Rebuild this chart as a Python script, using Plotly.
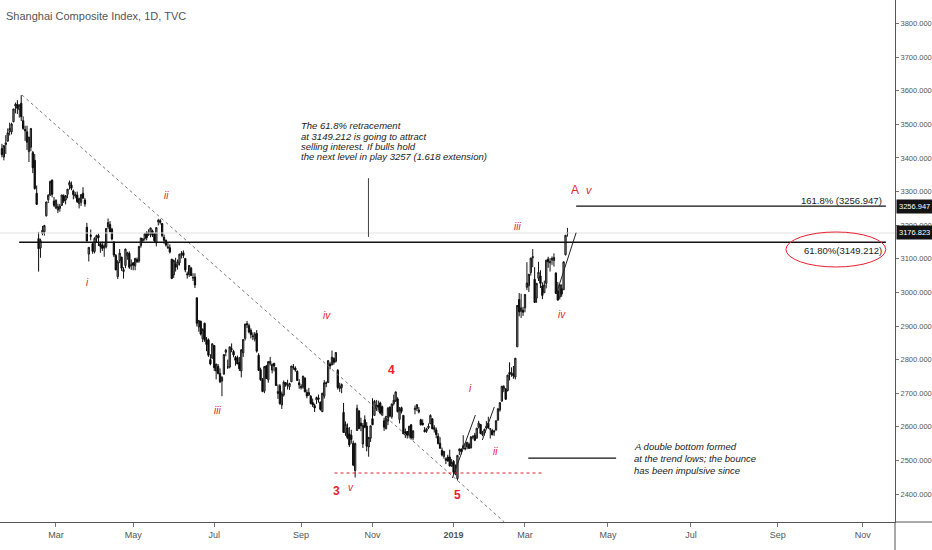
import pandas as pd
import plotly.graph_objects as go

# exchange holidays (weekdays without a session) inside the plotted range
holidays = ["2018-02-15", "2018-02-16", "2018-02-19", "2018-02-20", "2018-02-21",
            "2018-04-05", "2018-04-06", "2018-04-30", "2018-05-01", "2018-06-18",
            "2018-09-24", "2018-10-01", "2018-10-02", "2018-10-03", "2018-10-04",
            "2018-10-05", "2018-12-31", "2019-01-01", "2019-02-04", "2019-02-05",
            "2019-02-06", "2019-02-07", "2019-02-08"]

days = [d for d in pd.bdate_range("2018-01-15", "2019-04-02")
        if d.strftime("%Y-%m-%d") not in holidays]

opens = [
    3428, 3403, 3440, 3450, 3479, 3478, 3508, 3555, 3560, 3544, 3563, 3511, 3485,
    3478, 3419, 3432, 3416, 3393, 3295, 3160, 3132, 3175, 3180, 3228, 3276, 3289, 3334, 3272,
    3251, 3245, 3250, 3259, 3287, 3275, 3292, 3319, 3320, 3302, 3287, 3290, 3264, 3268, 3295, 3275, 3194, 3114, 3170, 3145, 3122, 3161,
    3169, 3145, 3141, 3132, 3136, 3195, 3202, 3188, 3149, 3110, 3047, 3095, 3105, 3062, 3080, 3109, 3116, 3080,
    3088, 3079, 3098, 3093, 3139, 3154, 3160, 3178, 3172, 3176, 3183, 3174, 3147, 3210, 3208, 3205, 3164, 3155, 3133, 3133, 3099, 3052,
    3084, 3081, 3088, 3114, 3118, 3101, 3055, 3053, 3072, 3043, 3046, 2984, 2897, 2914, 2862, 2908, 2859, 2859, 2800, 2804,
    2842, 2766, 2780, 2759, 2736, 2757, 2822, 2778, 2778, 2832, 2824, 2806, 2806, 2791, 2766, 2820, 2863, 2907, 2901, 2887, 2870, 2861,
    2878, 2813, 2770, 2740, 2706, 2781, 2740, 2788, 2769, 2789, 2776, 2699, 2722, 2665, 2695, 2731, 2723, 2719, 2734, 2778, 2775, 2765, 2731,
    2716, 2718, 2745, 2702, 2694, 2691, 2672, 2663, 2680, 2686, 2674, 2645, 2691, 2731, 2732, 2787, 2784, 2803, 2795,
    2768, 2714, 2717, 2643, 2582, 2597, 2579, 2575, 2551, 2470, 2589, 2647, 2611, 2549, 2621, 2602, 2540, 2566,
    2624, 2634, 2654, 2664, 2671, 2660, 2618, 2594, 2617, 2659, 2630, 2669, 2677, 2683, 2622, 2657, 2634, 2585, 2586, 2575, 2606, 2567,
    2651, 2654, 2644, 2621, 2611, 2590, 2587, 2597, 2609, 2624, 2592, 2591, 2572, 2551, 2530, 2512, 2500, 2510, 2510, 2483,
    2497, 2461, 2446, 2529, 2534, 2535, 2536, 2540, 2548, 2537, 2570, 2575, 2566, 2599, 2607, 2576, 2582, 2596, 2611, 2593, 2589, 2587,
    2590, 2620, 2650, 2676, 2713, 2713, 2708, 2762, 2756, 2757, 2748, 2838, 2979, 2944, 2947,
    2954, 3015, 3020, 3059, 3103, 3039, 2983, 3042, 3049, 3019, 2999, 3027, 3099, 3088, 3096, 3095, 3058, 3005, 2986, 3011, 3008,
    3112, 3177,
]
highs = [
    3442, 3438, 3468, 3488, 3505, 3505, 3546, 3565, 3572, 3559, 3587, 3524, 3496,
    3496, 3463, 3488, 3421, 3412, 3318, 3180, 3160, 3198, 3201, 3270, 3292, 3333, 3336, 3284,
    3277, 3264, 3263, 3290, 3292, 3290, 3308, 3333, 3330, 3306, 3299, 3300, 3282, 3292, 3313, 3281, 3207, 3135, 3187, 3150, 3164, 3172,
    3175, 3149, 3151, 3146, 3191, 3220, 3212, 3192, 3153, 3114, 3096, 3129, 3106, 3075, 3130, 3121, 3122, 3098,
    3090, 3103, 3104, 3137, 3162, 3162, 3177, 3182, 3188, 3192, 3187, 3177, 3194, 3219, 3219, 3206, 3172, 3157, 3149, 3143, 3099, 3098,
    3103, 3098, 3114, 3123, 3125, 3101, 3062, 3080, 3076, 3057, 3057, 2984, 2918, 2916, 2893, 2910, 2867, 2863, 2816, 2848,
    2843, 2786, 2787, 2774, 2751, 2816, 2832, 2800, 2838, 2848, 2829, 2811, 2812, 2808, 2831, 2860, 2906, 2915, 2907, 2893, 2881, 2882,
    2888, 2819, 2776, 2745, 2781, 2784, 2795, 2808, 2788, 2790, 2777, 2726, 2727, 2705, 2738, 2733, 2740, 2731, 2781, 2787, 2780, 2768, 2742,
    2727, 2751, 2747, 2711, 2716, 2694, 2684, 2669, 2690, 2696, 2674, 2701, 2739, 2735, 2798, 2792, 2827, 2807, 2822,
    2772, 2731, 2729, 2671, 2616, 2610, 2599, 2591, 2559, 2553, 2666, 2650, 2627, 2611, 2634, 2614, 2570, 2603,
    2685, 2680, 2680, 2678, 2675, 2663, 2627, 2630, 2659, 2660, 2669, 2696, 2704, 2688, 2659, 2660, 2634, 2595, 2587, 2602, 2608, 2589,
    2663, 2667, 2659, 2624, 2622, 2599, 2597, 2610, 2637, 2624, 2605, 2598, 2581, 2569, 2538, 2528, 2509, 2517, 2532, 2504,
    2501, 2488, 2516, 2536, 2535, 2575, 2552, 2555, 2553, 2572, 2575, 2582, 2597, 2618, 2607, 2588, 2595, 2617, 2630, 2596, 2594, 2591,
    2619, 2654, 2672, 2721, 2724, 2714, 2754, 2792, 2777, 2781, 2805, 2962, 2998, 2996, 2957,
    2995, 3090, 3055, 3103, 3129, 3075, 3027, 3091, 3066, 3030, 3035, 3097, 3106, 3102, 3107, 3116, 3059, 3031, 3023, 3024, 3091,
    3171, 3192,
]
lows = [
    3402, 3393, 3412, 3450, 3467, 3470, 3506, 3533, 3531, 3520, 3510, 3484, 3451,
    3424, 3388, 3420, 3355, 3306, 3260, 3062, 3103, 3170, 3169, 3226, 3266, 3288, 3283, 3254,
    3248, 3236, 3240, 3257, 3266, 3262, 3280, 3306, 3304, 3277, 3280, 3266, 3250, 3257, 3278, 3255, 3152, 3092, 3155, 3115, 3116, 3150,
    3138, 3118, 3123, 3106, 3131, 3189, 3180, 3155, 3105, 3066, 3040, 3087, 3064, 3041, 3072, 3097, 3070, 3067,
    3066, 3066, 3088, 3088, 3133, 3148, 3154, 3155, 3168, 3164, 3165, 3150, 3137, 3199, 3202, 3164, 3145, 3136, 3129, 3116, 3041, 3043,
    3062, 3068, 3080, 3101, 3102, 3060, 3041, 3046, 3049, 3034, 3013, 2899, 2883, 2872, 2852, 2853, 2825, 2808, 2783, 2804,
    2766, 2741, 2756, 2730, 2691, 2755, 2810, 2772, 2774, 2822, 2807, 2782, 2787, 2766, 2747, 2808, 2857, 2894, 2878, 2863, 2858, 2854,
    2821, 2766, 2737, 2703, 2700, 2743, 2731, 2782, 2759, 2765, 2722, 2683, 2666, 2653, 2690, 2719, 2711, 2710, 2733, 2770, 2764, 2737, 2713,
    2711, 2713, 2703, 2685, 2692, 2667, 2659, 2644, 2668, 2672, 2648, 2644, 2684, 2718, 2731, 2771, 2784, 2785, 2791,
    2711, 2704, 2700, 2583, 2573, 2563, 2540, 2550, 2483, 2449, 2589, 2593, 2587, 2537, 2596, 2527, 2511, 2555,
    2606, 2634, 2647, 2645, 2637, 2632, 2588, 2593, 2605, 2628, 2624, 2663, 2674, 2643, 2610, 2640, 2579, 2567, 2565, 2568, 2562, 2560,
    2637, 2647, 2640, 2604, 2604, 2584, 2582, 2593, 2609, 2593, 2583, 2566, 2548, 2535, 2512, 2505, 2489, 2497, 2483, 2481,
    2457, 2456, 2440, 2516, 2518, 2534, 2530, 2533, 2534, 2536, 2563, 2557, 2566, 2595, 2578, 2572, 2574, 2594, 2594, 2565, 2575, 2573,
    2590, 2618, 2645, 2676, 2703, 2680, 2705, 2738, 2749, 2743, 2741, 2838, 2929, 2924, 2930,
    2941, 3007, 3001, 3050, 3075, 2969, 2969, 3034, 3013, 2980, 2999, 3012, 3073, 3062, 3082, 3077, 2996, 2977, 2979, 2987, 3007,
    3110, 3166,
]
closes = [
    3410, 3437, 3445, 3475, 3488, 3501, 3546, 3559, 3548, 3558, 3523, 3488, 3481,
    3447, 3462, 3488, 3371, 3309, 3262, 3130, 3154, 3185, 3199, 3269, 3289, 3330, 3292, 3259,
    3274, 3255, 3257, 3290, 3272, 3288, 3307, 3327, 3310, 3291, 3291, 3270, 3279, 3291, 3281, 3263, 3153, 3134, 3167, 3122, 3161, 3169,
    3163, 3137, 3131, 3138, 3190, 3208, 3180, 3159, 3111, 3067, 3091, 3117, 3072, 3068, 3129, 3118, 3075, 3082,
    3081, 3101, 3091, 3137, 3162, 3159, 3174, 3163, 3174, 3192, 3170, 3154, 3193, 3214, 3214, 3169, 3155, 3141, 3135, 3120, 3041, 3095,
    3075, 3091, 3114, 3115, 3110, 3067, 3053, 3080, 3050, 3044, 3022, 2908, 2916, 2876, 2890, 2859, 2845, 2813, 2787, 2847,
    2776, 2787, 2759, 2734, 2747, 2815, 2828, 2778, 2838, 2831, 2814, 2798, 2787, 2773, 2829, 2860, 2906, 2904, 2882, 2874, 2869, 2876,
    2825, 2768, 2740, 2705, 2779, 2744, 2794, 2795, 2786, 2781, 2723, 2705, 2669, 2698, 2733, 2725, 2724, 2729, 2781, 2778, 2769, 2738, 2725,
    2721, 2751, 2704, 2692, 2702, 2669, 2665, 2656, 2687, 2682, 2652, 2700, 2731, 2729, 2797, 2781, 2807, 2792, 2821,
    2717, 2721, 2726, 2583, 2607, 2568, 2546, 2562, 2486, 2550, 2655, 2595, 2603, 2604, 2599, 2542, 2568, 2603,
    2606, 2676, 2665, 2659, 2641, 2636, 2599, 2631, 2655, 2632, 2668, 2679, 2704, 2645, 2652, 2646, 2579, 2576, 2575, 2602, 2567, 2588,
    2655, 2666, 2650, 2606, 2606, 2585, 2594, 2602, 2634, 2594, 2598, 2577, 2550, 2536, 2516, 2527, 2505, 2498, 2483, 2494,
    2465, 2464, 2515, 2533, 2526, 2544, 2535, 2554, 2536, 2570, 2570, 2560, 2596, 2611, 2580, 2581, 2592, 2602, 2597, 2594, 2576, 2585,
    2618, 2654, 2672, 2721, 2720, 2682, 2754, 2756, 2761, 2752, 2804, 2961, 2942, 2954, 2941,
    2994, 3028, 3054, 3102, 3106, 2970, 3027, 3060, 3027, 2991, 3022, 3096, 3091, 3091, 3101, 3104, 2997, 2977, 3023, 2995, 3091,
    3170, 3177,
]
assert len(days) == len(opens) == len(highs) == len(lows) == len(closes)

last_close = 3176.823
fib_618 = 3149.212
fib_1618 = 3256.947

tick_dates = ["2018-03-01", "2018-05-01", "2018-07-01", "2018-09-01", "2018-11-01", "2019-01-01",
              "2019-03-01", "2019-05-01", "2019-07-01", "2019-09-01", "2019-11-01"]
tick_labels = ["Mar", "May", "Jul", "Sep", "Nov", "<b>2019</b>", "Mar", "May", "Jul", "Sep", "Nov"]

# bar index axis like TradingView: sessions, then plain weekdays into the future
all_days = pd.DatetimeIndex(days + list(pd.bdate_range("2019-04-03", "2019-12-31")))
tick_vals = [int(all_days.searchsorted(pd.Timestamp(t))) for t in tick_dates]
xs = list(range(len(days)))

FONT = "Liberation Sans Narrow, Liberation Sans, Arial, sans-serif"
RED = "#e8212e"
XR = [-1, 462.7]
YR = [2316.7, 3870.2]

fig = go.Figure()
fig.add_trace(go.Candlestick(
    x=xs, open=opens, high=highs, low=lows, close=closes,
    increasing=dict(fillcolor="#a0a0a0", line=dict(color="#151515", width=1)),
    decreasing=dict(fillcolor="#0a0a0a", line=dict(color="#0a0a0a", width=1)),
    whiskerwidth=0, hoverinfo="skip"))

shapes = [
    # last price line
    dict(type="line", x0=XR[0], x1=XR[1], y0=last_close, y1=last_close, line=dict(color="#e2e2e2", width=1)),
    # falling trend line
    dict(type="line", x0=10.4, y0=3587.5, x1=260.3, y1=2316.7, line=dict(color="#777777", width=1, dash="dot")),
    # fib levels
    dict(type="line", x0=8.9, x1=458, y0=fib_618, y1=fib_618, line=dict(color="#111111", width=1.3)),
    dict(type="line", x0=297.5, x1=458, y0=fib_1618, y1=fib_1618, line=dict(color="#111111", width=1.3)),
    dict(type="circle", x0=406.2, x1=457.9, y0=3075.6, y1=3179.8, line=dict(color=RED, width=1)),
    # callout pointer
    dict(type="line", x0=189.9, x1=189.9, y0=3165, y1=3340, line=dict(color="#444444", width=1)),
    # double bottom
    dict(type="line", x0=172.3, x1=280, y0=2462.5, y1=2462.5, line=dict(color=RED, width=1, dash="dot")),
    dict(type="line", x0=272.7, x1=318.2, y0=2507, y1=2507, line=dict(color="#111111", width=1.2)),
    # wave channels
    dict(type="line", x0=233.4, y0=2447.6, x1=245.3, y1=2635, line=dict(color="#222222", width=1)),
    dict(type="line", x0=248.9, y0=2560.7, x1=255.1, y1=2659, line=dict(color="#222222", width=1)),
    dict(type="line", x0=287.2, y0=2995, x1=297.5, y1=3177.7, line=dict(color="#222222", width=1)),
    # axis frame extensions
    dict(type="line", xref="paper", yref="paper", x0=1, x1=1.045, y0=0, y1=0, line=dict(color="#555555", width=1)),
    dict(type="line", xref="paper", yref="paper", x0=1, x1=1, y0=-0.06, y1=0, line=dict(color="#555555", width=1)),
]

annotations = [
    dict(xref="paper", yref="paper", x=0, y=1, xshift=4, yshift=-8, xanchor="left", yanchor="top",
         text="Shanghai Composite Index, 1D, TVC", showarrow=False, font=dict(size=11, color="#555555")),
    dict(x=457, y=3275, xanchor="right", yanchor="middle", text="161.8% (3256.947)",
         showarrow=False, font=dict(size=9.5, color="#222222")),
    dict(x=457, y=3126, xanchor="right", yanchor="middle", text="61.80%(3149.212)",
         showarrow=False, font=dict(size=9.5, color="#222222")),
]

note_top = ["The 61.8% retracement", "at 3149.212 is going to attract",
            "selling interest. If bulls hold", "the next level in play 3257 (1.618 extension)"]
for k, line in enumerate(note_top):
    annotations.append(dict(x=153.7, y=3496, yshift=-10.4 * k, xanchor="left", yanchor="middle",
                            text="<i>" + line + "</i>", showarrow=False,
                            font=dict(size=9.5, color="#222222")))

note_bottom = ["A double bottom formed", "at the trend lows; the bounce", "has been impulsive since"]
for k, line in enumerate(note_bottom):
    annotations.append(dict(x=326.5, y=2542, yshift=-12 * k, xanchor="left", yanchor="middle",
                            text="<i>" + line + "</i>", showarrow=False,
                            font=dict(size=9.5, color="#222222")))

wave_labels = [
    ("<i>i</i>", 44.5, 3028, 10), ("<i>ii</i>", 85.4, 3287, 10), ("<i>iii</i>", 111.8, 2650, 10),
    ("<i>iv</i>", 168.2, 2930, 10), ("<i>v</i>", 181.1, 2418, 10),
    ("<b>3</b>", 173.4, 2409, 12), ("<b>4</b>", 201.8, 2769, 12), ("<b>5</b>", 236, 2397, 12),
    ("<i>i</i>", 242.7, 2715, 10), ("<i>ii</i>", 255.6, 2528, 10), ("<i>iii</i>", 267, 3195, 10),
    ("<i>iv</i>", 290.3, 2933, 10), ("A", 297, 3305, 12), ("<i>v</i>", 304.2, 3305, 11),
]
for txt, x, y, size in wave_labels:
    annotations.append(dict(x=x, y=y, text=txt, showarrow=False, xanchor="center", yanchor="middle",
                            font=dict(size=size, color=RED)))

for price in [fib_1618, last_close]:
    annotations.append(dict(xref="paper", x=1, y=price, xanchor="left", yanchor="middle", xshift=1,
                            text="%.3f" % price, showarrow=False, bgcolor="#131313",
                            borderpad=2, font=dict(size=7.5, color="#ffffff")))

fig.update_layout(
    width=932, height=550,
    margin=dict(l=0, r=36, t=0, b=28),
    paper_bgcolor="white", plot_bgcolor="white",
    showlegend=False, boxgap=0.05,
    font=dict(family=FONT, color="#333333"),
    shapes=shapes, annotations=annotations,
    xaxis=dict(range=XR, tickvals=tick_vals, ticktext=tick_labels, ticks="outside", ticklen=4,
               tickcolor="#777777", showgrid=False, zeroline=False, showline=True, linecolor="#555555",
               rangeslider=dict(visible=False), tickfont=dict(size=9, color="#555555"), fixedrange=True),
    yaxis=dict(range=YR, side="right", tick0=2400, dtick=100, tickformat=".3f", ticks="outside",
               ticklen=3, tickcolor="#777777", showgrid=False, zeroline=False, showline=True,
               linecolor="#555555", tickfont=dict(size=7.5, color="#555555"), fixedrange=True),
)

# drop the default page margin so the 932x550 figure fills the window exactly
fix_page = ("document.body.style.margin='0';document.body.style.overflow='hidden';"
            "Plotly.relayout(document.getElementById('{plot_id}'), {width: 932, height: 550});")
fig.write_html("out.html", post_script=fix_page, config={"displayModeBar": False})
